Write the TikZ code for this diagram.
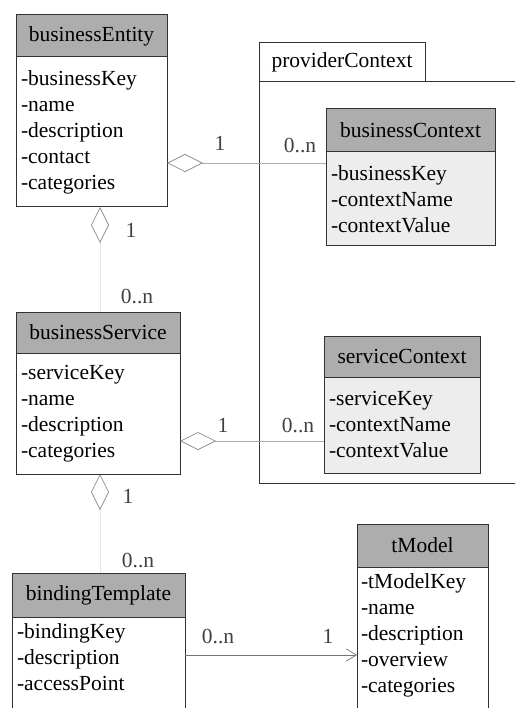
\documentclass[tikz,border=0pt]{standalone}
\usepackage{fontspec}
\setmainfont{Liberation Serif}
\usetikzlibrary{positioning,arrows.meta}

\begin{document}
\begin{tikzpicture}[x=1pt,y=-1pt,
  font=\fontsize{21.5}{26}\selectfont,
  classhead/.style={draw=black!80,line width=1pt,fill=black!32,inner sep=0pt,outer sep=0pt,anchor=north west},
  classbody/.style={draw=black!80,line width=1pt,fill=white,inner xsep=5pt,inner ysep=0pt,outer sep=0pt,align=left},
  ctxbody/.style={classbody,fill=black!7},
  openbody/.style={classbody,inner ysep=7pt,text depth=120pt},
  assoc/.style={draw=black!32,line width=0.7pt},
  aggr/.style={assoc,{Diamond[open,length=36pt,width=18pt,color=black!45,fill=white]}-},
  mult/.style={text=black!75,inner sep=0pt}]

\useasboundingbox (0,0) rectangle (515,708);
\clip (0,0) rectangle (515,708);

% package
\node[draw=black!80,line width=1pt,minimum width=281pt,minimum height=401pt,inner sep=0pt,outer sep=0pt,anchor=north west] (pkBody) at (259,82) {};
\node[draw=black!80,line width=1pt,minimum width=166pt,minimum height=39pt,inner sep=0pt,outer sep=0pt,anchor=south west] (pkTab) at (pkBody.north west) {providerContext};

% classes
\node[classhead,minimum width=151pt,minimum height=42pt] (beHead) at (16,15) {businessEntity};
\node[classbody,text width=141pt,minimum height=150pt,below=0pt of beHead] (beBody) {-businessKey\\-name\\-description\\-contact\\-categories};

\node[classhead,minimum width=169pt,minimum height=43pt] (bcHead) at (326,109) {businessContext};
\node[ctxbody,text width=159pt,minimum height=94pt,below=0pt of bcHead] (bcBody) {-businessKey\\-contextName\\-contextValue};

\node[classhead,minimum width=164pt,minimum height=41pt] (bsHead) at (16,312) {businessService};
\node[classbody,text width=154pt,minimum height=121pt,below=0pt of bsHead] (bsBody) {-serviceKey\\-name\\-description\\-categories};

\node[classhead,minimum width=156pt,minimum height=41pt] (scHead) at (324,336) {serviceContext};
\node[ctxbody,text width=146pt,minimum height=96pt,below=0pt of scHead] (scBody) {-serviceKey\\-contextName\\-contextValue};

\node[classhead,minimum width=173pt,minimum height=44pt] (btHead) at (12,573) {bindingTemplate};
\node[openbody,text width=163pt,below=0pt of btHead] (btBody) {-bindingKey\\-description\\-accessPoint};

\node[classhead,minimum width=131pt,minimum height=43pt] (tmHead) at (357,524) {tModel};
\node[openbody,inner xsep=4pt,text width=123pt,below=0pt of tmHead] (tmBody) {-tModelKey\\-name\\-description\\-overview\\-categories};

% connectors
\draw[aggr] ([yshift=-31pt]beBody.east) coordinate (beAgg) -- (beAgg -| bcBody.west);
\draw[aggr] ([yshift=-27.5pt]bsBody.east) coordinate (bsAgg) -- (bsAgg -| scBody.west);
\draw[aggr,draw=black!10] ([xshift=8.5pt]beBody.south) coordinate (beDown) -- (beDown |- bsHead.north);
\draw[aggr,draw=black!10] ([xshift=2pt]bsBody.south) coordinate (bsDown) -- (bsDown |- btHead.north);
\draw[draw=black!55,line width=0.7pt,-{Straight Barb[length=10pt,width=12pt]}] ([yshift=-38pt]btHead.south east) coordinate (btOut) -- (btOut -| tmBody.west);

% multiplicities
\node[mult] (m1) at (220,143) {1};
\node[mult] (m2) at (300,146) {0..n};
\node[mult] (m3) at (131,230) {1};
\node[mult] (m4) at (137,297) {0..n};
\node[mult] (m5) at (223,425) {1};
\node[mult] (m6) at (298,425) {0..n};
\node[mult] (m7) at (128,496) {1};
\node[mult] (m8) at (138,560) {0..n};
\node[mult] (m9) at (218,636) {0..n};
\node[mult] (m10) at (328,636) {1};

\end{tikzpicture}
\end{document}
